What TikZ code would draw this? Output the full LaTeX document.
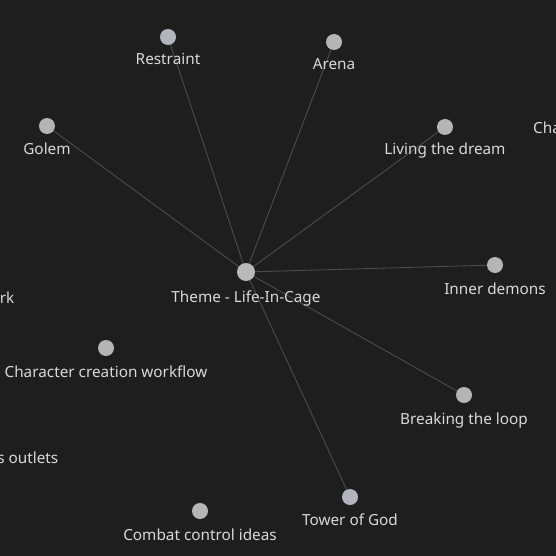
\documentclass[tikz,border=0pt]{standalone}
\usepackage{fontspec}
\setmainfont{Noto Sans}
\definecolor{bg}{HTML}{1E1E1E}
\definecolor{nodegrey}{HTML}{B5B5B5}
\definecolor{nodeblue}{HTML}{B4B4BE}
\definecolor{edgegrey}{HTML}{4C4C4C}
\definecolor{labelgrey}{HTML}{DADADA}
\tikzset{
  dot/.style={circle, fill=nodegrey, draw=none, minimum size=16pt, inner sep=0pt},
  bluedot/.style={dot, fill=nodeblue},
  bigdot/.style={dot, minimum size=18pt, fill=nodegrey!95!white},
  lbl/.style={text=labelgrey, font=\fontsize{15.3}{17}\selectfont, inner sep=0pt, anchor=base},
  link/.style={draw=edgegrey, line width=0.9pt}
}
\begin{document}
\begin{tikzpicture}[x=1pt,y=-1pt]
\fill[bg] (0,0) rectangle (556,556);
\useasboundingbox (0,0) rectangle (556,556);
% edges first
\coordinate (cT) at (246,272);
\coordinate (cR) at (168,37);
\coordinate (cA) at (334,42);
\coordinate (cG) at (47,126);
\coordinate (cL) at (445,127);
\coordinate (cI) at (495,265);
\coordinate (cB) at (464,395);
\coordinate (cW) at (350,497);
\draw[link] (cT) -- (cR);
\draw[link] (cT) -- (cA);
\draw[link] (cT) -- (cG);
\draw[link] (cT) -- (cL);
\draw[link] (cT) -- (cI);
\draw[link] (cT) -- (cB);
\draw[link] (cT) -- (cW);
% nodes
\node[bigdot] (theme) at (cT) {};
\node[bluedot] (restraint) at (cR) {};
\node[dot] (arena) at (cA) {};
\node[dot] (golem) at (cG) {};
\node[dot] (living) at (cL) {};
\node[dot] (inner) at (cI) {};
\node[dot] (breaking) at (cB) {};
\node[bluedot] (tower) at (cW) {};
\node[dot] (charwf) at (106,348) {};
\node[dot] (combat) at (200,511) {};
% labels
\node[lbl] (ltheme) at (246,302) {Theme - Life-In-Cage};
\node[lbl] (lrestraint) at (168,65) {Restraint};
\node[lbl] (larena) at (334,70) {Arena};
\node[lbl] (lgolem) at (47,154) {Golem};
\node[lbl] (lliving) at (445,155) {Living the dream};
\node[lbl] (linner) at (495,294) {Inner demons};
\node[lbl] (lbreaking) at (464,424) {Breaking the loop};
\node[lbl] (ltower) at (350,525) {Tower of God};
\node[lbl] (lcharwf) at (106,377) {Character creation workflow};
\node[lbl] (lcombat) at (200,540) {Combat control ideas};
\node[lbl, anchor=base west] (lcha) at (533,134) {Cha};
\node[lbl, anchor=base east] (lrk) at (14.5,303) {rk};
\node[lbl, anchor=base east] (lout) at (58.5,463) {s outlets};
\end{tikzpicture}
\end{document}
